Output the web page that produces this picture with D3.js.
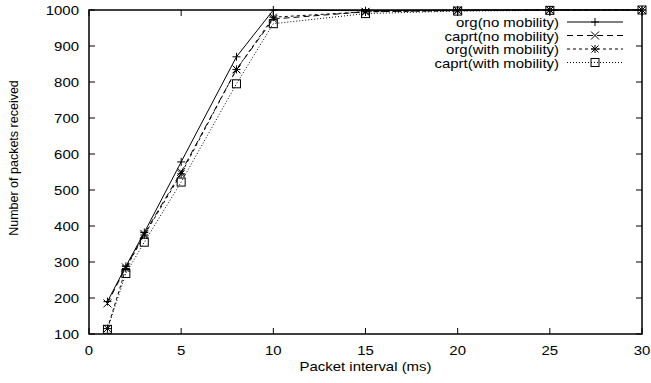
<!DOCTYPE html>
<html>
<head>
<meta charset="utf-8">
<script src="https://cdn.jsdelivr.net/npm/d3@7"></script>
<style>
  body { margin: 0; background: #fff; }
  text { font-family: "Liberation Sans", Arial, sans-serif; fill: #000; }
</style>
</head>
<body>
<div id="chart"></div>
<script>
const intervals = [1, 2, 3, 5, 8, 10, 15, 20, 25, 30];
const orgNoMob = [190, 288, 382, 578, 870, 1000, 998, 1000, 1000, 1000];
const caprtNoMob = [185, 285, 378, 550, 835, 975, 995, 999, 1000, 1000];
const orgWithMob = [115, 282, 375, 545, 835, 980, 995, 998, 1000, 1000];
const caprtWithMob = [113, 268, 355, 522, 795, 962, 990, 997, 999, 1000];
const seriesNames = ["org(no mobility)", "caprt(no mobility)", "org(with mobility)", "caprt(with mobility)"];
const xTicks = [0, 5, 10, 15, 20, 25, 30];
const yTicks = [100, 200, 300, 400, 500, 600, 700, 800, 900, 1000];

const W = 651, H = 383;
const margin = {top: 10, right: 9, bottom: 49, left: 89};
const stretch = 1.15;

const svg = d3.select("#chart").append("svg")
    .attr("width", W)
    .attr("height", H);

const x = d3.scaleLinear().domain([0, 30]).range([margin.left, W - margin.right]);
const y = d3.scaleLinear().domain([100, 1000]).range([H - margin.bottom, margin.top]);

// text slightly wider than normal, like the scaled eps
function label(sel, tx, ty, anchor, size, str) {
    sel.append("g").attr("transform", `translate(${tx},${ty}) scale(${stretch},1)`)
        .append("text").attr("text-anchor", anchor).attr("font-size", size).text(str);
}

const styles = [
    {dash: null, marker: "plus"},
    {dash: "6,4", marker: "cross"},
    {dash: "3,3", marker: "star"},
    {dash: "1,2", marker: "square"}
];
const allSeries = [orgNoMob, caprtNoMob, orgWithMob, caprtWithMob];

// ticks (inward, mirrored)
const tl = 6;
const g = svg.append("g");
xTicks.forEach(t => {
    g.append("line").attr("x1", x(t)).attr("x2", x(t))
        .attr("y1", y(100)).attr("y2", y(100) - tl).attr("stroke", "#000");
    g.append("line").attr("x1", x(t)).attr("x2", x(t))
        .attr("y1", y(1000)).attr("y2", y(1000) + tl).attr("stroke", "#000");
    label(g, x(t), y(100) + 21, "middle", 13, t);
});
yTicks.forEach(t => {
    g.append("line").attr("x1", x(0)).attr("x2", x(0) + tl)
        .attr("y1", y(t)).attr("y2", y(t)).attr("stroke", "#000");
    g.append("line").attr("x1", x(30)).attr("x2", x(30) - tl)
        .attr("y1", y(t)).attr("y2", y(t)).attr("stroke", "#000");
    label(g, x(0) - 10, y(t) + 5, "end", 13, t);
});

function drawMarker(sel, type, cx, cy) {
    const s = 4;
    const p = sel.append("g").attr("transform", `translate(${cx},${cy})`)
        .attr("stroke", "#000").attr("stroke-width", 1).attr("fill", "none");
    if (type === "plus" || type === "star") {
        p.append("line").attr("x1", -s).attr("x2", s).attr("y1", 0).attr("y2", 0);
        p.append("line").attr("x1", 0).attr("x2", 0).attr("y1", -s).attr("y2", s);
    }
    if (type === "cross" || type === "star") {
        const c = type === "star" ? 3.5 : 4;
        p.append("line").attr("x1", -c).attr("x2", c).attr("y1", -c).attr("y2", c);
        p.append("line").attr("x1", -c).attr("x2", c).attr("y1", c).attr("y2", -c);
    }
    if (type === "square") {
        p.append("rect").attr("x", -4).attr("y", -4).attr("width", 8).attr("height", 8);
    }
}

const line = d3.line().x(d => x(d[0])).y(d => y(d[1]));
const plot = svg.append("g");
allSeries.forEach((vals, i) => {
    const pts = intervals.map((v, j) => [v, vals[j]]);
    plot.append("path").attr("d", line(pts))
        .attr("fill", "none").attr("stroke", "#000").attr("stroke-width", 1)
        .attr("stroke-dasharray", styles[i].dash);
    pts.forEach(p => drawMarker(plot, styles[i].marker, x(p[0]), y(p[1])));
});

// frame
svg.append("rect")
    .attr("x", x(0)).attr("y", y(1000))
    .attr("width", x(30) - x(0)).attr("height", y(100) - y(1000))
    .attr("fill", "none").attr("stroke", "#000").attr("stroke-width", 1.5);

// legend
const leg = svg.append("g");
seriesNames.forEach((name, i) => {
    const ly = 22 + i * 13.5;
    label(leg, 559, ly + 5, "end", 13, name);
    leg.append("line").attr("x1", 567).attr("x2", 623).attr("y1", ly).attr("y2", ly)
        .attr("stroke", "#000").attr("stroke-dasharray", styles[i].dash);
    drawMarker(leg, styles[i].marker, 595, ly);
});

// axis labels
label(svg, (x(0) + x(30)) / 2, 371, "middle", 13, "Packet interval (ms)");
svg.append("text").attr("transform", `translate(18,158) rotate(-90)`)
    .attr("text-anchor", "middle").attr("font-size", 12.5).text("Number of packets received");
</script>
</body>
</html>
